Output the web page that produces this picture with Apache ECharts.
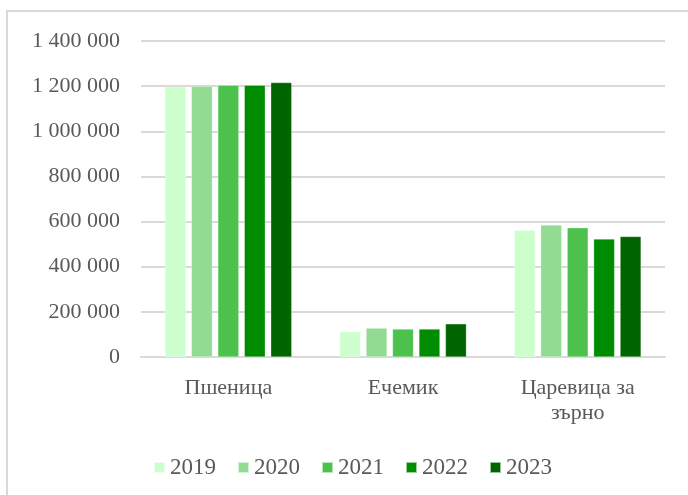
<!DOCTYPE html>
<html><head><meta charset="utf-8">
<script src="https://cdn.jsdelivr.net/npm/echarts@6/dist/echarts.min.js"></script>
<style>html,body{margin:0;padding:0;background:#fff}#c{width:688px;height:495px}</style>
</head><body><div id="c"></div>
<script>
const categories = ['Пшеница', 'Ечемик', 'Царевица за\nзърно'];
const years = ['2019', '2020', '2021', '2022', '2023'];
const colors = ['#ccffcc', '#92db92', '#4cc24c', '#008c00', '#006400'];
const v2019 = [1197000, 112000, 561000];
const v2020 = [1199000, 128000, 585000];
const v2021 = [1204000, 124000, 573000];
const v2022 = [1204000, 124000, 523000];
const v2023 = [1216000, 147000, 534000];
const seriesValues = [v2019, v2020, v2021, v2022, v2023];
const yTicks = [0, 200000, 400000, 600000, 800000, 1000000, 1200000, 1400000];

const font = '"Liberation Serif", "Times New Roman", serif';
const chart = echarts.init(document.getElementById('c'));
chart.setOption({
  animation: false,
  graphic: [{type: 'rect', shape: {x: 7, y: 11, width: 700, height: 500}, style: {fill: 'none', stroke: '#d9d9d9', lineWidth: 2}, silent: true}],
  grid: {left: 141, right: 23, top: 41, bottom: 138},
  legend: {
    top: 451, left: 148, itemWidth: 11, itemHeight: 11, itemGap: 21,
    icon: 'rect',
    textStyle: {fontFamily: font, fontSize: 23, color: '#595959'},
    data: years
  },
  xAxis: {
    type: 'category', data: categories,
    axisLine: {lineStyle: {color: '#d9d9d9', width: 2}},
    axisTick: {show: false},
    axisLabel: {fontFamily: font, fontSize: 22, color: '#595959', margin: 19, lineHeight: 25}
  },
  yAxis: {
    type: 'value', min: yTicks[0], max: yTicks[yTicks.length - 1], interval: yTicks[1] - yTicks[0],
    axisLine: {show: false}, axisTick: {show: false},
    splitLine: {lineStyle: {color: '#d9d9d9', width: 2}},
    axisLabel: {fontFamily: font, fontSize: 22, color: '#595959', margin: 21,
      formatter: v => String(v).replace(/\B(?=(\d{3})+(?!\d))/g, ' ')}
  },
  series: years.map((y, i) => ({
    name: y, type: 'bar', data: seriesValues[i],
    itemStyle: {color: colors[i], borderColor: 'rgba(255,255,255,0.6)', borderWidth: 0.5},
    barWidth: 21, barGap: '26%', barCategoryGap: '27%'
  }))
});
</script></body></html>
